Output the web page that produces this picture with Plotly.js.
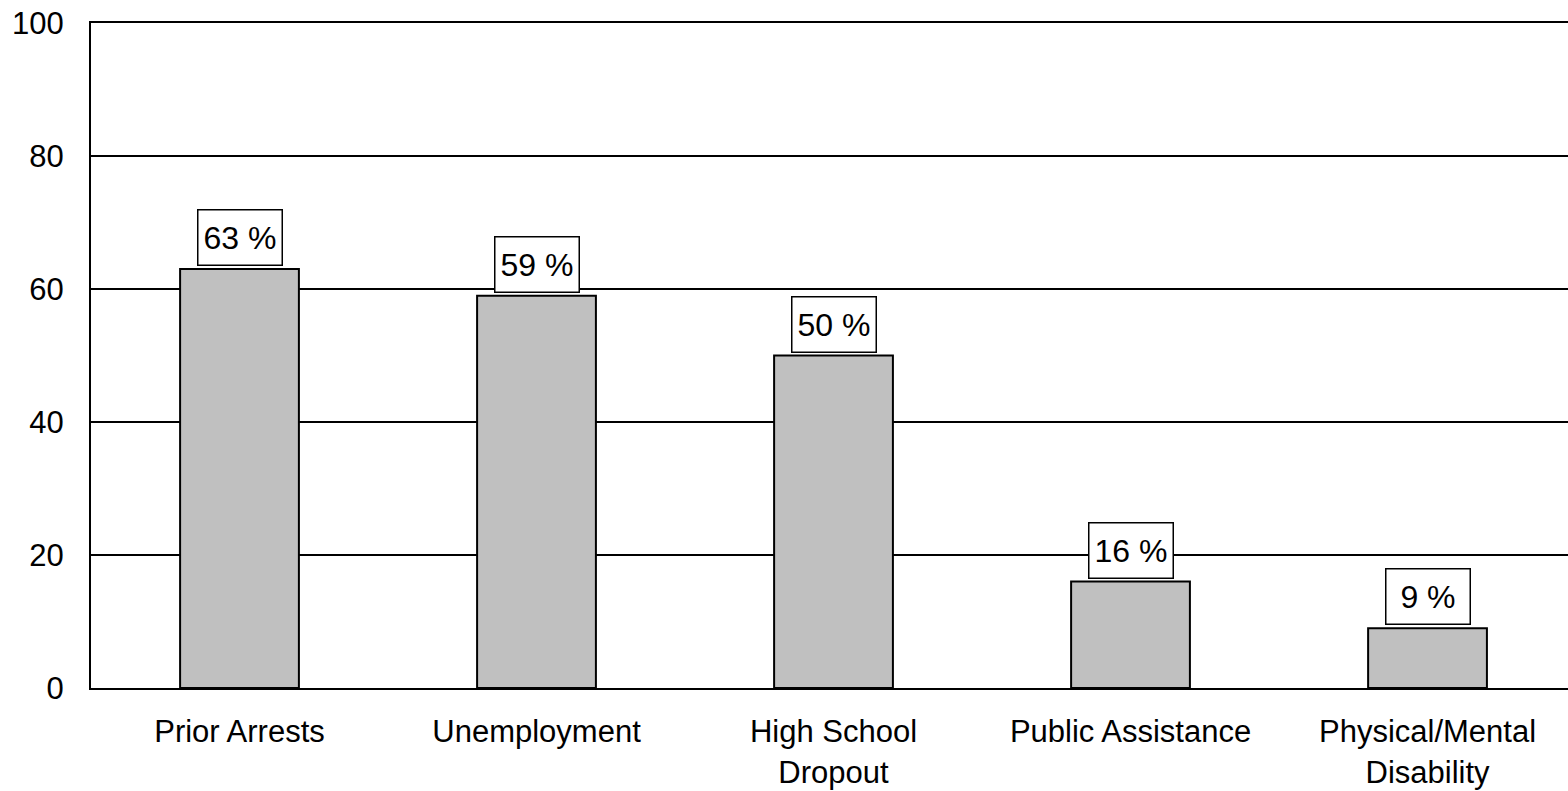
<!DOCTYPE html>
<html>
<head>
<meta charset="utf-8">
<script src="https://cdn.plot.ly/plotly-3.0.1.min.js"></script>
<style>html,body{margin:0;padding:0;background:#fff;}#chart{width:1568px;height:791px;}</style>
</head>
<body>
<div id="chart"></div>
<script>
const categories = ["Prior Arrests", "Unemployment", "High School<br>Dropout", "Public Assistance", "Physical/Mental<br>Disability"];
const values = [63, 59, 50, 16, 9];
const valueLabels = ["63 %", "59 %", "50 %", "16 %", "9 %"];
const yTicks = [0, 20, 40, 60, 80, 100];

const FONT = "Liberation Sans, Arial, sans-serif";

const trace = {
  type: "bar",
  x: categories,
  y: values,
  marker: {color: "#c0c0c0", line: {color: "#000", width: 2}},
  hoverinfo: "none"
};

const annotations = categories.map((c, i) => ({
  x: c, y: values[i], xref: "x", yref: "y",
  text: valueLabels[i], showarrow: false,
  yanchor: "bottom", xanchor: "center", yshift: 3,
  font: {family: FONT, size: 32, color: "#000"},
  bgcolor: "#fff", bordercolor: "#000", borderwidth: 1.5, borderpad: 2,
  width: 79, height: 50
}));

const layout = {
  width: 1568, height: 791,
  margin: {l: 91, r: 0, t: 23, b: 103},
  paper_bgcolor: "#fff", plot_bgcolor: "#fff",
  showlegend: false,
  bargap: 0.6,
  font: {family: FONT, size: 31, color: "#000"},
  xaxis: {
    type: "category",
    range: [-0.5, 4.473],
    showgrid: false, zeroline: false,
    showline: true, mirror: true, linecolor: "#000", linewidth: 2,
    ticks: "", ticklabelstandoff: 15,
    tickfont: {family: FONT, size: 31, color: "#000"}
  },
  yaxis: {
    range: [0, 100],
    tickvals: yTicks, ticktext: yTicks.map(String),
    showgrid: true, gridcolor: "#000", gridwidth: 2,
    zeroline: false,
    showline: true, linecolor: "#000", linewidth: 2,
    ticks: "", ticklabelstandoff: 19,
    tickfont: {family: FONT, size: 31, color: "#000"}
  },
  annotations: annotations
};

Plotly.newPlot("chart", [trace], layout, {displayModeBar: false, staticPlot: true});
</script>
</body>
</html>
